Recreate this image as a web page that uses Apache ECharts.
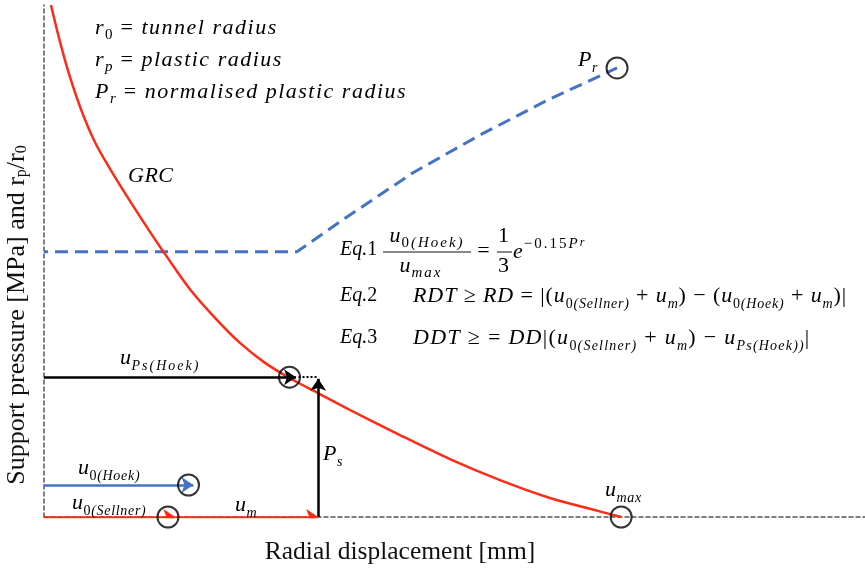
<!DOCTYPE html>
<html>
<head>
<meta charset="utf-8">
<script src="https://cdn.jsdelivr.net/npm/echarts@6/dist/echarts.min.js"></script>
<style>html,body{margin:0;padding:0;background:#fff}#c{width:865px;height:570px}</style>
</head>
<body>
<div id="c"></div>
<script>
// Schematic units (both axes 0..100)
const grcX = [0.85, 1.95, 3.17, 4.63, 6.21, 8.04, 10.48, 12.91, 14.98, 17.78, 20.83, 23.87, 26.92, 29.96, 33.37, 37.27, 43.36, 49.45, 55.54, 61.63, 66.50, 70.28];
const grcY = [100, 92.8, 85.9, 79.1, 73.2, 68.0, 61.7, 55.7, 50.8, 44.5, 38.9, 34.0, 30.1, 27.1, 24.2, 20.9, 16.0, 11.3, 7.2, 3.7, 1.6, 0];
const prX = [0, 30.8, 36.9, 44.9, 53.1, 61.3, 69.8];
const prY = [51.8, 51.8, 58.6, 67.2, 74.6, 81.4, 87.7];
const uPsHoek = [30.7, 27.3];     // arrow to GRC at support pressure
const psLevel = 27.3;
const umX = 33.4;                // u0(Sellner)+um
const u0Hoek = [18.2, 6.25];
const u0Sellner = 16.0;
const circleX = [29.9, 17.6, 15.1, 70.3, 69.8];
const circleY = [27.3, 6.25, 0, 0, 87.7];

const RED = '#ff2b17', BLUE = '#4472c4', SERIF = 'Liberation Serif';

function rich(main, sub, lsM, lsS) {
  const base = {fontFamily: SERIF, color: '#111'};
  const o = (a) => Object.assign({}, base, a);
  return {
    m: o({fontStyle: 'italic', fontSize: main, lineHeight: 30, verticalAlign: 'middle', padding: [0, lsM, 0, 0]}),
    u: o({fontStyle: 'normal', fontSize: main, lineHeight: 30, verticalAlign: 'middle', padding: [0, lsM, 0, 0]}),
    s: o({fontStyle: 'italic', fontSize: sub, lineHeight: 15, verticalAlign: 'bottom', padding: [0, lsS, 0, 0]}),
    su: o({fontStyle: 'normal', fontSize: sub, lineHeight: 15, verticalAlign: 'bottom', padding: [0, lsS, 0, 0]}),
    p: o({fontStyle: 'normal', fontSize: sub, lineHeight: 14, verticalAlign: 'top', padding: [0, lsS, 0, 0]}),
    pi: o({fontStyle: 'italic', fontSize: sub, lineHeight: 14, verticalAlign: 'top', padding: [0, lsS, 0, 0]}),
    ps: o({fontStyle: 'italic', fontSize: sub - 3, lineHeight: 21, verticalAlign: 'top'})
  };
}
// wrap each character of str in a rich token of the given style (gives letter spacing)
function w(style, str) { return str.split('').map(c => '{' + style + '|' + c + '}').join(''); }
const M = s => w('m', s), U = s => w('u', s), S = s => w('s', s), SU = s => w('su', s), P = s => w('p', s);

function T(x, y, text, r, align) {
  return {type: 'text', x: x, y: y, z: 100, style: {text: text, rich: r, textAlign: align || 'left', textVerticalAlign: 'middle'}};
}
function bar(x1, x2, y) {
  return {type: 'line', z: 100, shape: {x1: x1, y1: y, x2: x2, y2: y}, style: {stroke: '#111', lineWidth: 1}};
}
const RL = rich(22, 15, 1.5, 1);     // legend lines
const RQ = rich(20, 13, 0, 0);       // "Eq.n"
const RF = rich(22, 15, 1, 2);       // fraction in Eq.1
const RX = rich(22, 15, 1, 2);       // exponent in Eq.1
const RE = rich(22, 14, 0.9, 0.8);   // Eq.2
const RE3 = rich(22, 14, 1.3, 1.2);  // Eq.3
const RA = rich(22, 14, 0.5, 0.7);   // arrow labels

const chart = echarts.init(document.getElementById('c'));
const dashAxis = {show: true, lineStyle: {color: '#555', width: 1.5, type: [4, 3]}};
chart.setOption({
  animation: false,
  grid: {left: 44, right: 0, top: 5, bottom: 53},
  xAxis: {type: 'value', min: 0, max: 100, axisLine: dashAxis, axisTick: {show: false}, axisLabel: {show: false}, splitLine: {show: false}},
  yAxis: {type: 'value', min: 0, max: 100, axisLine: dashAxis, axisTick: {show: false}, axisLabel: {show: false}, splitLine: {show: false}},
  series: [
    {type: 'line', name: 'GRC', smooth: 0.3, showSymbol: false, data: grcX.map((x, i) => [x, grcY[i]]),
     lineStyle: {color: RED, width: 2.5}, z: 5},
    {type: 'line', name: 'Pr', smooth: false, showSymbol: false, data: prX.map((x, i) => [x, prY[i]]),
     lineStyle: {color: BLUE, width: 3, type: [13, 7], dashOffset: 9}, z: 4},
    {type: 'lines', coordinateSystem: 'cartesian2d', symbol: ['none', 'arrow'], symbolSize: 12, z: 6,
     lineStyle: {color: '#000', width: 2.5, opacity: 1},
     data: [{coords: [[0, psLevel], uPsHoek]}, {coords: [[umX, 0], [umX, psLevel - 0.3]]}]},
    {type: 'lines', coordinateSystem: 'cartesian2d', symbol: ['none', 'none'], z: 6,
     lineStyle: {color: '#000', width: 2, type: [2, 2], opacity: 1},
     data: [{coords: [[uPsHoek[0] + 0.3, psLevel], [umX, psLevel]]}]},
    {type: 'lines', coordinateSystem: 'cartesian2d', symbol: ['none', 'arrow'], symbolSize: 12, z: 6,
     lineStyle: {color: BLUE, width: 2.5, opacity: 1},
     data: [{coords: [[0, u0Hoek[1]], u0Hoek]}]},
    {type: 'lines', coordinateSystem: 'cartesian2d', symbol: ['none', 'arrow'], symbolSize: 12, z: 6,
     lineStyle: {color: RED, width: 2.5, opacity: 1},
     data: [{coords: [[0, 0], [u0Sellner, 0]]}, {coords: [[u0Sellner, 0], [umX, 0]]}]},
    {type: 'scatter', symbol: 'circle', symbolSize: 21, z: 7, data: circleX.map((x, i) => [x, circleY[i]]),
     itemStyle: {color: 'rgba(0,0,0,0)', borderColor: '#000', borderWidth: 2}}
  ],
  graphic: [
    T(95, 28, M('r') + SU('0') + U(' = ') + M('tunnel radius'), RL),
    T(95, 60, M('r') + S('p') + U(' = ') + M('plastic radius'), RL),
    T(95, 92, M('P') + S('r') + U(' = ') + M('normalised plastic radius'), RL),
    T(128, 176, M('GRC'), rich(22, 14, 0.5, 0.5)),
    T(578, 60, M('P') + S('r'), RA),
    T(340, 250, M('Eq.') + U('1'), RQ),
    T(427, 236, M('u') + SU('0') + S('(Hoek)'), RF, 'center'),
    bar(383, 471, 252),
    T(421, 266, M('u') + S('max'), RF, 'center'),
    T(484, 251, U('='), RF, 'center'),
    T(504, 236, U('1'), RF, 'center'),
    bar(497, 512, 252),
    T(504, 266, U('3'), RF, 'center'),
    T(513, 252, M('e') + P('−0.15') + '{pi|P}{ps|r}', RX),
    T(340, 296, M('Eq.') + U('2'), RQ),
    T(413, 296, M('RDT') + U(' ≥ ') + M('RD') + U(' = |(') + M('u') + SU('0') + S('(Sellner)') + U(' + ') + M('u') + S('m') +
      U(') − (') + M('u') + SU('0') + S('(Hoek)') + U(' + ') + M('u') + S('m') + U(')|'), RE),
    T(340, 338, M('Eq.') + U('3'), RQ),
    T(413, 338, M('DDT') + U(' ≥ = ') + M('DD') + U('|(') + M('u') + SU('0') + S('(Sellner)') + U(' + ') + M('u') + S('m') +
      U(') − ') + M('u') + S('Ps(Hoek))') + U('|'), RE3),
    T(120, 358, M('u') + S('Ps(Hoek)'), rich(22, 14, 0.5, 2)),
    T(323, 454, M('P') + S('s'), RA),
    T(78, 468, M('u') + SU('0') + S('(Hoek)'), RA),
    T(72, 503, M('u') + SU('0') + S('(Sellner)'), RA),
    T(235, 505, M('u') + S('m'), RA),
    T(605, 490, M('u') + S('max'), RA),
    {type: 'text', x: 400, y: 552, z: 100, style: {text: 'Radial displacement [mm]', fontFamily: SERIF, fontSize: 25.5, fill: '#111', textAlign: 'center', textVerticalAlign: 'middle'}},
    {type: 'text', x: 17, y: 315, rotation: Math.PI / 2, z: 100, style: {text: 'Support pressure [MPa] and r{b|p}/r{b|0}',
      fontFamily: SERIF, fontSize: 26, fill: '#111', textAlign: 'center', textVerticalAlign: 'middle',
      rich: {b: {fontFamily: SERIF, fontSize: 16, fill: '#111', lineHeight: 12, verticalAlign: 'bottom'}}}}
  ]
});
</script>
</body>
</html>
